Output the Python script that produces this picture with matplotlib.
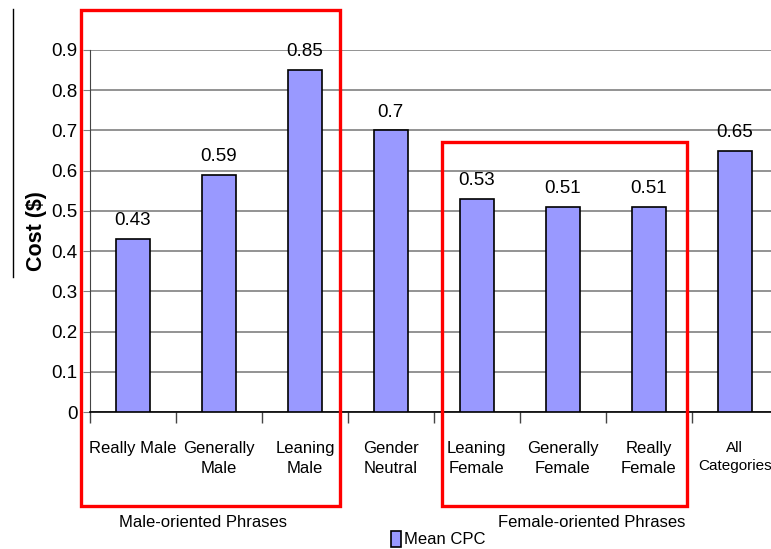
import matplotlib

matplotlib.use("Agg")
import matplotlib.pyplot as plt
from matplotlib.lines import Line2D
from matplotlib.patches import Patch, Rectangle

plt.rcParams["font.family"] = ["Liberation Sans", "DejaVu Sans"]

# chart data
categories = [
    "Really Male",
    "Generally\nMale",
    "Leaning\nMale",
    "Gender\nNeutral",
    "Leaning\nFemale",
    "Generally\nFemale",
    "Really\nFemale",
    "All\nCategories",
]
mean_cpc = [0.43, 0.59, 0.85, 0.70, 0.53, 0.51, 0.51, 0.65]
value_labels = ["0.43", "0.59", "0.85", "0.7", "0.53", "0.51", "0.51", "0.65"]
y_ticks = [0.0, 0.1, 0.2, 0.3, 0.4, 0.5, 0.6, 0.7, 0.8, 0.9]
y_tick_labels = ["0", "0.1", "0.2", "0.3", "0.4", "0.5", "0.6", "0.7", "0.8", "0.9"]
group_labels = ["Male-oriented Phrases", "Female-oriented Phrases"]

BAR_COLOR = "#9999ff"

fig = plt.figure(figsize=(7.71, 5.49), dpi=100)
ax = fig.add_axes([0.1167, 0.2495, 0.892, 0.6595])

x = range(len(categories))
bars = ax.bar(x, mean_cpc, width=0.4, color=BAR_COLOR, edgecolor="black",
              linewidth=1.2, zorder=3)

for bar, text in zip(bars, value_labels):
    ax.annotate(text, (bar.get_x() + bar.get_width() / 2, bar.get_height()),
                xytext=(0, 7), textcoords="offset points", ha="center",
                va="bottom", fontsize=13.5, annotation_clip=False)

ax.set_xlim(-0.5, len(categories) - 0.5)
ax.set_ylim(0, 0.9)
ax.set_yticks(y_ticks)
ax.set_yticklabels(y_tick_labels, fontsize=13.5)
ax.yaxis.grid(True, color="#808080", linewidth=1.2, zorder=0)
ax.tick_params(axis="y", length=5, color="#808080", pad=4)

ax.set_xticks(list(x))
ax.set_xticklabels(categories, fontsize=12, linespacing=1.38)
# the last label runs to the edge of the picture, keep it inside
ax.get_xticklabels()[-1].set_fontsize(11)
ax.set_xticks([i - 0.5 for i in range(len(categories) + 1)], minor=True)
ax.tick_params(axis="x", which="major", length=0, pad=21)
ax.tick_params(axis="x", which="minor", length=8, width=1, color="#444444")

for side in ("top", "right"):
    ax.spines[side].set_visible(False)
ax.spines["left"].set_color("#444444")
ax.spines["bottom"].set_color("black")
ax.spines["bottom"].set_linewidth(1.2)

ax.set_ylabel("Cost ($)", fontsize=15.5, fontweight="bold", labelpad=3)

# red grouping boxes
fig.add_artist(Rectangle((0.105, 0.0783), 0.336, 0.9035, transform=fig.transFigure,
                         fill=False, edgecolor="red", linewidth=2.4))
fig.add_artist(Rectangle((0.573, 0.0783), 0.318, 0.663, transform=fig.transFigure,
                         fill=False, edgecolor="red", linewidth=2.4))
fig.text(0.263, 0.049, group_labels[0], ha="center", va="center", fontsize=12)
fig.text(0.768, 0.049, group_labels[1], ha="center", va="center", fontsize=12)

# stray rule at the far left of the original scan
fig.add_artist(Line2D([0.0169, 0.0169], [0.984, 0.495], transform=fig.transFigure,
                      color="black", linewidth=1))

handle = Patch(facecolor=BAR_COLOR, edgecolor="black", linewidth=1.2)
fig.legend([handle], ["Mean CPC"], loc="center", bbox_to_anchor=(0.568, 0.018),
           frameon=False, handlelength=0.6, handleheight=1.1, handletextpad=0.2,
           borderpad=0, prop={"size": 12})

fig.savefig("out.png", dpi=100)
